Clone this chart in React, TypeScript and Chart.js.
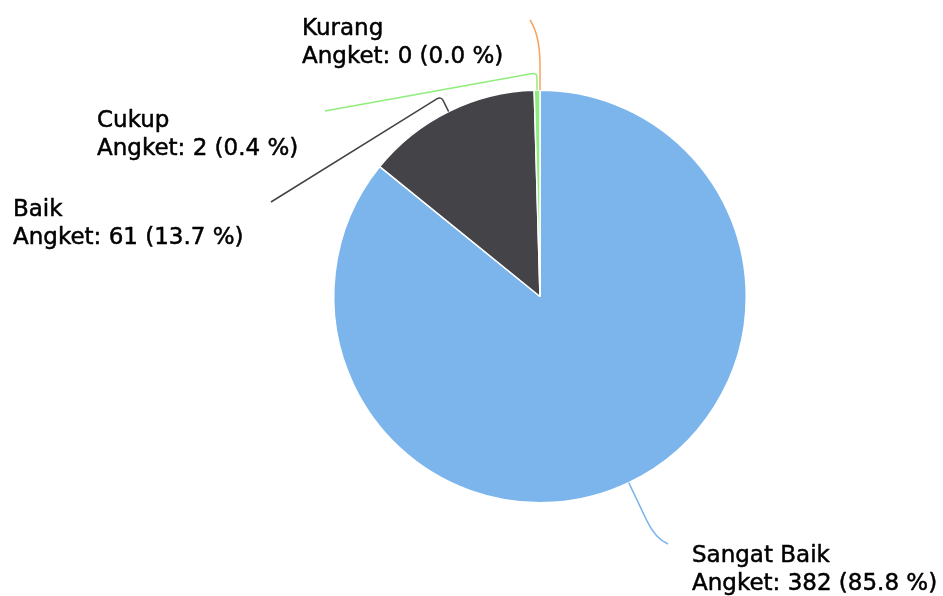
import React, { useEffect, useRef } from "react";
import { Chart, registerables } from "chart.js";

Chart.register(...registerables);

// ---- Data ----
const CATEGORIES = ["Sangat Baik", "Baik", "Cukup", "Kurang"];
const VALUES = [382, 61, 2, 0];
const SERIES_NAME = "Angket";
const COLORS = ["#7cb5ec", "#434348", "#90ed7d", "#f7a35c"];

// ---- Label layout (position of text and connector geometry) ----
// a: straight radial length, b: radial distance of bend point, end: connector end,
// tx/ty: text left x / first baseline y
const LABEL_LAYOUT = [
  { a: 42, b: 62, end: [668, 544], tx: 692, ty: 562 },
  { a: 12, b: 17, end: [271, 202], tx: 13, ty: 216 },
  { a: 13, b: 17.5, end: [325, 111], tx: 97, ty: 127 },
  { a: 25, b: 55, end: [530, 20], tx: 302, ty: 35 },
];

const FONT = "23px 'DejaVu Sans', Verdana, sans-serif";
const LINE_H = 28;

const labelPlugin = {
  id: "pieLabels",
  afterDatasetsDraw(chart: any) {
    const ctx = chart.ctx;
    const meta = chart.getDatasetMeta(0);
    const total = VALUES.reduce((s, v) => s + v, 0);
    meta.data.forEach((arc: any, i: number) => {
      const { x, y, startAngle, endAngle, outerRadius } = arc.getProps(
        ["x", "y", "startAngle", "endAngle", "outerRadius"],
        true
      );
      const mid = (startAngle + endAngle) / 2;
      const dx = Math.cos(mid);
      const dy = Math.sin(mid);
      const L = LABEL_LAYOUT[i];
      const p0x = x + dx * outerRadius;
      const p0y = y + dy * outerRadius;
      const p1x = p0x + dx * L.a;
      const p1y = p0y + dy * L.a;
      const cx = p0x + dx * L.b;
      const cy = p0y + dy * L.b;
      const ex = L.end[0];
      const ey = L.end[1];
      const len = Math.hypot(ex - cx, ey - cy);
      const k = Math.min(L.b - L.a, len);
      const qx = cx + ((ex - cx) / len) * k;
      const qy = cy + ((ey - cy) / len) * k;

      ctx.save();
      ctx.strokeStyle = COLORS[i];
      ctx.lineWidth = 1.5;
      ctx.lineJoin = "round";
      ctx.beginPath();
      ctx.moveTo(p0x, p0y);
      ctx.lineTo(p1x, p1y);
      ctx.quadraticCurveTo(cx, cy, qx, qy);
      ctx.lineTo(ex, ey);
      ctx.stroke();

      const pct = ((VALUES[i] / total) * 100).toFixed(1);
      const line1 = CATEGORIES[i];
      const line2 = `${SERIES_NAME}: ${VALUES[i]} (${pct} %)`;
      ctx.font = FONT;
      ctx.fillStyle = "#000000";
      ctx.strokeStyle = "#000000";
      ctx.lineWidth = 0.5;
      ctx.textAlign = "left";
      ctx.textBaseline = "alphabetic";
      ctx.fillText(line1, L.tx, L.ty);
      ctx.strokeText(line1, L.tx, L.ty);
      ctx.fillText(line2, L.tx, L.ty + LINE_H);
      ctx.strokeText(line2, L.tx, L.ty + LINE_H);
      ctx.restore();
    });
  },
};

export default function App() {
  const canvasRef = useRef<HTMLCanvasElement | null>(null);

  useEffect(() => {
    if (!canvasRef.current) return;
    const chart = new Chart(canvasRef.current, {
      type: "pie",
      data: {
        labels: CATEGORIES,
        datasets: [
          {
            label: SERIES_NAME,
            data: VALUES,
            backgroundColor: COLORS,
            borderColor: "#ffffff",
            borderWidth: 1.5,
          },
        ],
      },
      options: {
        animation: false,
        responsive: true,
        maintainAspectRatio: false,
        events: [],
        layout: { padding: { left: 333, right: 196, top: 89, bottom: 92 } },
        plugins: {
          legend: { display: false },
          tooltip: { enabled: false },
          title: { display: false },
        },
      },
      plugins: [labelPlugin],
    });
    return () => chart.destroy();
  }, []);

  return (
    <div
      style={{
        position: "fixed",
        left: 0,
        top: 0,
        width: 943,
        height: 596,
        background: "#ffffff",
      }}
    >
      <canvas ref={canvasRef} />
    </div>
  );
}
